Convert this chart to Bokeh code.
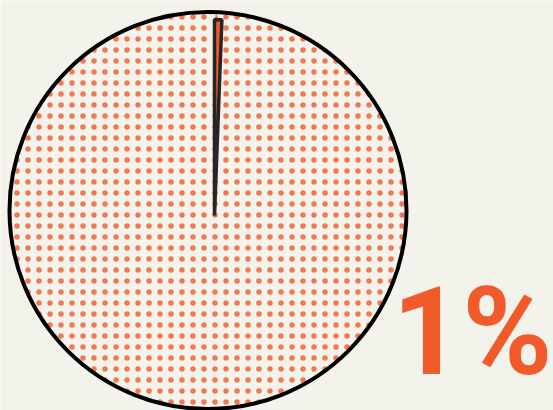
import numpy as np
from bokeh.plotting import figure
from bokeh.models import Range1d, Label
from bokeh.embed import file_html
from bokeh.resources import INLINE

# ---- data ----
categories = ["Highlighted", "Rest"]
shares = [0.6, 99.4]          # percent
label_text = f"{round(shares[0])}%"

# ---- style ----
W, H = 553, 410
BG = "#F3F2EB"
ORANGE = "#F15A2B"
DARK = "#262626"

p = figure(width=W, height=H, output_backend="svg", toolbar_location=None,
           x_range=Range1d(0, W), y_range=Range1d(0, H), min_border=0)
p.axis.visible = False
p.grid.visible = False
p.outline_line_color = None
p.background_fill_color = BG
p.border_fill_color = BG

cx, cy, R = 207.5, 200.0, 198.5
scx, scy, sR = 214.0, 195.0, 196.0

fr = np.array(shares) / sum(shares)
ends = np.pi / 2 - 2 * np.pi * np.cumsum(fr)
starts = np.concatenate([[np.pi / 2], ends[:-1]])

# rest of pie: dotted
p.wedge(x=[cx], y=[cy], radius=R, start_angle=[starts[1]], end_angle=[ends[1]],
        direction="clock", fill_color=BG, line_color=None,
        hatch_pattern="dot", hatch_color=ORANGE, hatch_scale=11,
        hatch_weight=1, hatch_alpha=0.8)

# outer circle
p.circle(x=[cx], y=[cy], radius=R, fill_color=None, line_color="black", line_width=4)

# highlighted slice
p.wedge(x=[scx], y=[scy], radius=sR, start_angle=[starts[0]], end_angle=[ends[0]],
        direction="clock", fill_color=ORANGE, line_color=DARK, line_width=3.5)

p.add_layout(Label(x=W - 1, y=H - 260, text=label_text, text_align="right",
                   text_baseline="top", text_font="Roboto",
                   text_font_style="bold", text_font_size="122px", text_color=ORANGE))

open("out.html", "w").write(file_html(p, INLINE))
